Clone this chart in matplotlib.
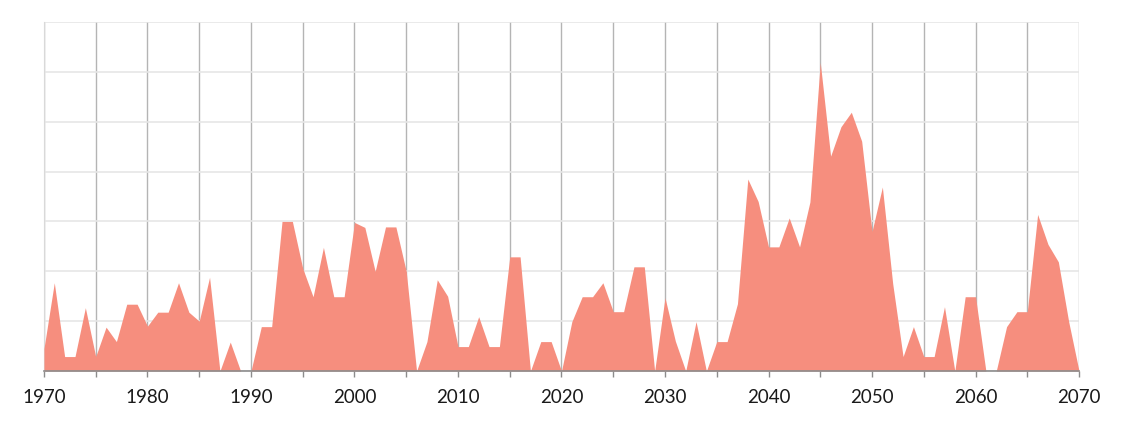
import matplotlib

matplotlib.use("Agg")
import matplotlib.pyplot as plt
import numpy as np
from matplotlib.ticker import MultipleLocator

plt.rcParams["font.family"] = ["Lato", "DejaVu Sans"]

years = list(range(1970, 2071))
values = [
    4.5, 17.7, 2.9, 2.9, 12.7, 2.9, 8.8, 5.9, 13.4, 13.4,      # 1970s
    9.0, 11.8, 11.8, 17.7, 11.8, 10.0, 18.8, 0.0, 5.8, 0.0,    # 1980s
    0.0, 8.9, 8.9, 30.0, 30.0, 20.6, 14.9, 24.8, 14.9, 14.9,   # 1990s
    29.8, 28.8, 20.0, 28.9, 28.9, 20.0, 0.0, 5.9, 18.3, 15.0,  # 2000s
    4.9, 4.9, 10.9, 4.9, 4.9, 22.9, 22.9, 0.0, 5.9, 5.9,       # 2010s
    0.0, 9.9, 14.9, 14.9, 17.7, 11.9, 11.9, 20.9, 20.9, 0.0,   # 2020s
    14.7, 6.0, 0.0, 9.9, 0.0, 5.9, 5.9, 13.5, 38.5, 34.0,      # 2030s
    24.9, 24.9, 30.7, 24.9, 33.9, 61.9, 43.1, 49.0, 51.9, 46.1,  # 2040s
    28.0, 36.9, 17.5, 2.9, 8.9, 2.9, 2.9, 12.9, 0.0, 14.9,     # 2050s
    14.9, 0.0, 0.0, 8.9, 11.9, 11.9, 31.4, 25.4, 21.9, 9.9,    # 2060s
    0.0,
]

fill_color = "#F68E7E"

figure = plt.figure(figsize=(11.24, 4.23), dpi=100)
axis = figure.add_axes([0.0391, 0.1229, 0.9209, 0.8251])

axis.fill_between(years, values, 0, color=fill_color, linewidth=0, zorder=3)

axis.set_xlim(1970, 2070)
axis.set_ylim(0, 70)
axis.xaxis.set_major_locator(MultipleLocator(10))
axis.xaxis.set_minor_locator(MultipleLocator(5))
axis.yaxis.set_major_locator(MultipleLocator(10))
axis.set_yticklabels([])

axis.grid(axis="y", color="#e6e6e6", linewidth=1.2, zorder=0)
axis.grid(axis="x", which="both", color="#b4b4b4", linewidth=1.0, zorder=1)
axis.set_axisbelow(True)

axis.tick_params(axis="y", length=0)
axis.tick_params(axis="x", which="both", direction="out", length=4.3,
                 width=1.0, color="#8c8c8c")
axis.tick_params(axis="x", which="major", labelsize=13.5, pad=9,
                 labelcolor="#1a1a1a")

for side in ("top", "right"):
    axis.spines[side].set_visible(False)
axis.spines["left"].set_color("#d9d9d9")
axis.spines["bottom"].set_color("#8c8c8c")
axis.spines["bottom"].set_linewidth(1.2)
axis.spines["bottom"].set_zorder(4)

figure.savefig("out.png", dpi=100)
plt.close(figure)
